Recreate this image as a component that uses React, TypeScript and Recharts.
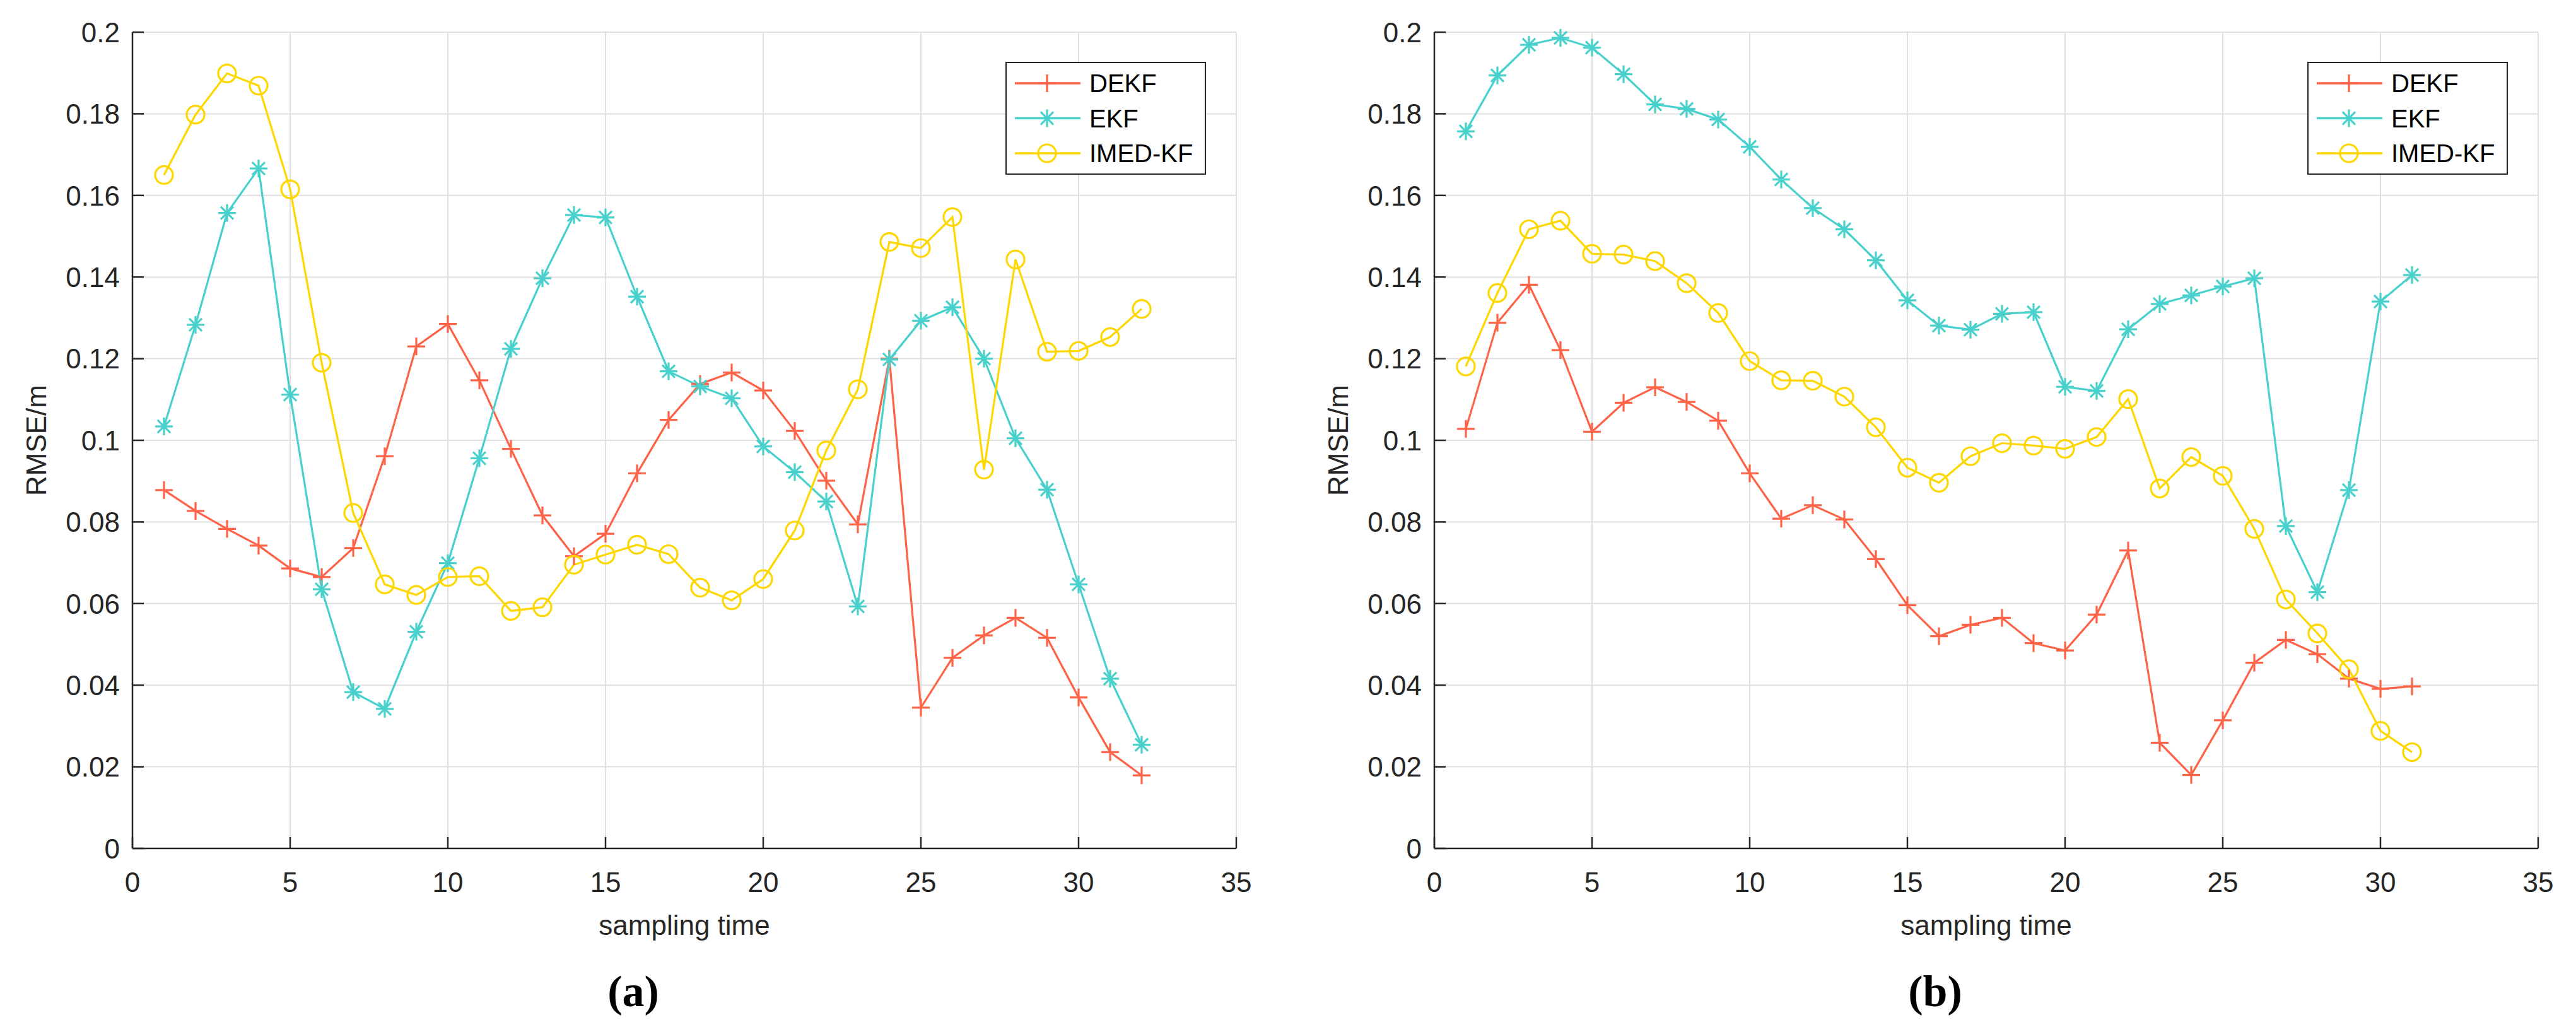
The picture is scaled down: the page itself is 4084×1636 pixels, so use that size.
import React from 'react'
import { LineChart, Line, XAxis, YAxis, CartesianGrid, Legend, Label } from 'recharts';

// panel (a)
const timesA = [1, 2, 3, 4, 5, 6, 7, 8, 9, 10, 11, 12, 13, 14, 15, 16, 17, 18, 19, 20, 21, 22, 23, 24, 25, 26, 27, 28, 29, 30, 31, 32];
const dekfA = [0.0878, 0.0827, 0.0783, 0.0742, 0.0686, 0.0665, 0.0736, 0.0961, 0.123, 0.1285, 0.1147, 0.0979, 0.0816, 0.0716, 0.0771, 0.0919, 0.105, 0.1138, 0.1166, 0.1122, 0.1023, 0.0901, 0.0794, 0.12, 0.0345, 0.0467, 0.0522, 0.0565, 0.0516, 0.037, 0.0236, 0.0179];
const ekfA = [0.1034, 0.1283, 0.1557, 0.1666, 0.1112, 0.0635, 0.0383, 0.0342, 0.0531, 0.0699, 0.0956, 0.1224, 0.1397, 0.1552, 0.1546, 0.1352, 0.1169, 0.1132, 0.1103, 0.0985, 0.0922, 0.085, 0.0593, 0.1198, 0.1293, 0.1326, 0.12, 0.1005, 0.0879, 0.0647, 0.0416, 0.0254];
const imedA = [0.165, 0.1798, 0.1899, 0.1869, 0.1615, 0.119, 0.0822, 0.0647, 0.0621, 0.0665, 0.0667, 0.0582, 0.0591, 0.0695, 0.072, 0.0744, 0.0721, 0.0639, 0.0608, 0.066, 0.0779, 0.0975, 0.1125, 0.1486, 0.1471, 0.1547, 0.0928, 0.1443, 0.1217, 0.1219, 0.1253, 0.1322];

// panel (b)
const timesB = [1, 2, 3, 4, 5, 6, 7, 8, 9, 10, 11, 12, 13, 14, 15, 16, 17, 18, 19, 20, 21, 22, 23, 24, 25, 26, 27, 28, 29, 30, 31];
const dekfB = [0.1028, 0.1288, 0.1381, 0.1221, 0.1021, 0.1092, 0.113, 0.1094, 0.1048, 0.0919, 0.0808, 0.0841, 0.0806, 0.0709, 0.0596, 0.052, 0.0548, 0.0565, 0.0503, 0.0485, 0.0573, 0.073, 0.0259, 0.018, 0.0314, 0.0455, 0.0511, 0.0476, 0.0416, 0.0391, 0.0397];
const ekfB = [0.1757, 0.1894, 0.1969, 0.1986, 0.1962, 0.1897, 0.1823, 0.1812, 0.1786, 0.1719, 0.1639, 0.1569, 0.1517, 0.1441, 0.1343, 0.1281, 0.1271, 0.131, 0.1314, 0.1131, 0.1121, 0.1272, 0.1334, 0.1355, 0.1377, 0.1397, 0.079, 0.0628, 0.0878, 0.134, 0.1405];
const imedB = [0.1181, 0.1361, 0.1517, 0.1538, 0.1457, 0.1455, 0.1439, 0.1385, 0.1312, 0.1194, 0.1147, 0.1146, 0.1107, 0.1032, 0.0933, 0.0896, 0.0961, 0.0993, 0.0987, 0.0979, 0.1008, 0.1101, 0.0882, 0.0959, 0.0913, 0.0783, 0.061, 0.0527, 0.0439, 0.0288, 0.0236];

const xTicks = [0, 5, 10, 15, 20, 25, 30, 35];
const yTicks = [0, 0.02, 0.04, 0.06, 0.08, 0.1, 0.12, 0.14, 0.16, 0.18, 0.2];

const series = [
  { key: 'dekf', name: 'DEKF', color: '#FF6347', marker: 'plus' },
  { key: 'ekf', name: 'EKF', color: '#48D1CC', marker: 'star' },
  { key: 'imed', name: 'IMED-KF', color: '#FFD700', marker: 'circle' },
];

const buildRows = (t: number[], d: number[], e: number[], m: number[]) =>
  t.map((v, i) => ({ t: v, dekf: d[i], ekf: e[i], imed: m[i] }));

const AXIS = '#262626';
const FONT = '"Liberation Sans", Arial, Helvetica, sans-serif';

const Marker = ({ cx, cy, color, shape }: any) => {
  if (cx == null || cy == null) return null;
  const r = 14;
  const sw = 3.2;
  if (shape === 'circle') {
    return <circle cx={cx} cy={cy} r={r} fill="none" stroke={color} strokeWidth={sw} />;
  }
  const d = r * 0.72;
  return (
    <g stroke={color} strokeWidth={sw}>
      <line x1={cx - r} y1={cy} x2={cx + r} y2={cy} />
      <line x1={cx} y1={cy - r} x2={cx} y2={cy + r} />
      {shape === 'star' && <line x1={cx - d} y1={cy - d} x2={cx + d} y2={cy + d} />}
      {shape === 'star' && <line x1={cx - d} y1={cy + d} x2={cx + d} y2={cy - d} />}
    </g>
  );
};

const BottomTick = ({ x, y, payload }: any) => (
  <g>
    <line x1={x} y1={y} x2={x} y2={y - 18} stroke={AXIS} strokeWidth={2.5} />
    <text x={x} y={y + 38} dy="0.71em" textAnchor="middle" fontSize={44} fontFamily={FONT} fill={AXIS}>{payload.value}</text>
  </g>
);
const TopTick = ({ x, y }: any) => <line x1={x} y1={y} x2={x} y2={y + 18} stroke={AXIS} strokeWidth={2.5} />;
const LeftTick = ({ x, y, payload }: any) => (
  <g>
    <line x1={x} y1={y} x2={x + 18} y2={y} stroke={AXIS} strokeWidth={2.5} />
    <text x={x - 20} y={y} dy="0.36em" textAnchor="end" fontSize={44} fontFamily={FONT} fill={AXIS}>
      {String(+Number(payload.value).toFixed(2))}
    </text>
  </g>
);
const RightTick = ({ x, y }: any) => <line x1={x} y1={y} x2={x - 18} y2={y} stroke={AXIS} strokeWidth={2.5} />;

const LegendBox = () => (
  <svg width={318} height={180} style={{ display: 'block' }}>
    <rect x={1} y={1} width={316} height={177} fill="#fff" stroke={AXIS} strokeWidth={2} />
    {series.map((s, i) => {
      const cy = 34 + i * 55.5;
      return (
        <g key={s.key}>
          <line x1={15} y1={cy} x2={119} y2={cy} stroke={s.color} strokeWidth={3.5} />
          <Marker cx={66} cy={cy} color={s.color} shape={s.marker} />
          <text x={133} y={cy} dy="0.36em" fontSize={40} fontFamily={FONT} fill="#000">{s.name}</text>
        </g>
      );
    })}
  </svg>
);

const Panel = ({ rows, tag }: { rows: any[]; tag: string }) => (
  <LineChart width={2020} height={1636} data={rows} margin={{ top: 51, right: 60, left: 0, bottom: 0 }}>
    <CartesianGrid stroke="#e0e0e0" strokeWidth={2} />
    <XAxis dataKey="t" type="number" domain={[0, 35]} ticks={xTicks} interval={0} height={291}
      tickSize={0} tickMargin={0} tickLine={false} tick={<BottomTick />} axisLine={{ stroke: AXIS, strokeWidth: 2.5 }}>
      <Label content={({ viewBox }: any) => (
        <g>
          <text x={viewBox.x + viewBox.width / 2} y={viewBox.y + 137} textAnchor="middle" fontSize={44} fontFamily={FONT} fill={AXIS}>sampling time</text>
          <text x={1004} y={viewBox.y + 250} textAnchor="middle" fontSize={70} fontWeight="bold" fontFamily='"Liberation Serif", "Times New Roman", serif' fill="#000">({tag})</text>
        </g>
      )} />
    </XAxis>
    <XAxis xAxisId="top" orientation="top" type="number" domain={[0, 35]} ticks={xTicks} interval={0} height={0}
      allowDataOverflow tickSize={0} tickMargin={0} tickLine={false} tick={<TopTick />} axisLine={{ stroke: AXIS, strokeWidth: 2.5 }} />
    <YAxis type="number" domain={[0, 0.2]} ticks={yTicks} interval={0} width={210}
      tickSize={0} tickMargin={0} tickLine={false} tick={<LeftTick />} axisLine={{ stroke: AXIS, strokeWidth: 2.5 }}>
      <Label content={({ viewBox }: any) => {
        const cx = viewBox.x + 57;
        const cy = viewBox.y + viewBox.height / 2;
        return <text x={cx} y={cy} dy="0.36em" transform={`rotate(-90 ${cx} ${cy})`} textAnchor="middle" fontSize={44} fontFamily={FONT} fill={AXIS}>RMSE/m</text>;
      }} />
    </YAxis>
    <YAxis yAxisId="right" orientation="right" type="number" domain={[0, 0.2]} ticks={yTicks} interval={0} width={0}
      allowDataOverflow tickSize={0} tickMargin={0} tickLine={false} tick={<RightTick />} axisLine={{ stroke: AXIS, strokeWidth: 2.5 }} />
    <Legend layout="vertical" align="center" verticalAlign="middle" content={<LegendBox />}
      wrapperStyle={{ left: 1594, top: 98, width: 318, height: 180 }} />
    {series.map((s) => (
      <Line key={s.key} dataKey={s.key} name={s.name} stroke={s.color} strokeWidth={3.2} isAnimationActive={false}
        activeDot={false}
        dot={(p: any) => <Marker key={`${s.key}-${p.index}`} cx={p.cx} cy={p.cy} color={s.color} shape={s.marker} />} />
    ))}
  </LineChart>
);

export default function App() {
  return (
    <div style={{ position: 'absolute', left: 0, top: 0, width: 4084, height: 1636, background: '#fff' }}>
      <div style={{ position: 'absolute', left: 0, top: 0 }}>
        <Panel rows={buildRows(timesA, dekfA, ekfA, imedA)} tag="a" />
      </div>
      <div style={{ position: 'absolute', left: 2064, top: 0 }}>
        <Panel rows={buildRows(timesB, dekfB, ekfB, imedB)} tag="b" />
      </div>
    </div>
  );
}
